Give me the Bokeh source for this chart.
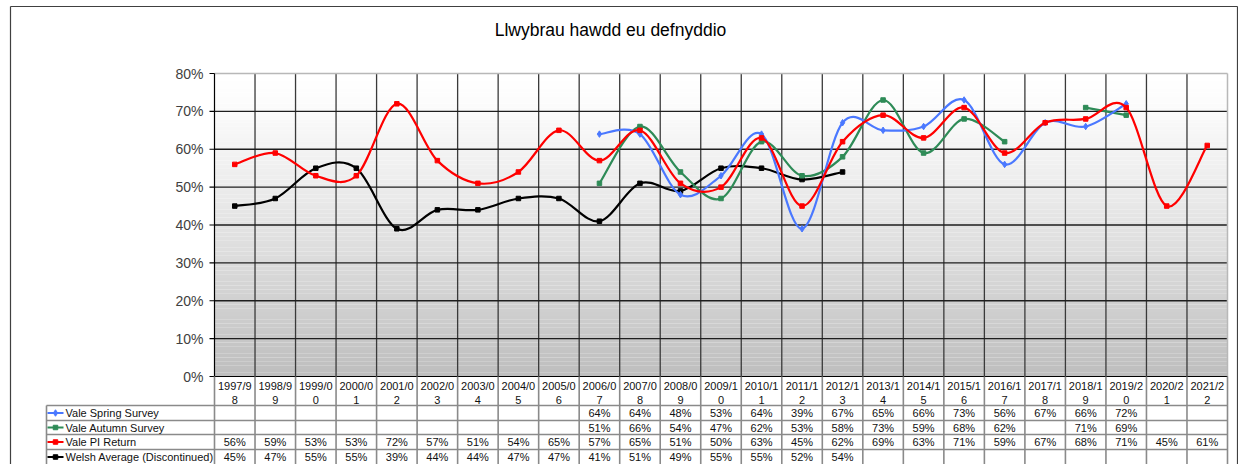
import numpy as np
from bokeh.plotting import figure
from bokeh.models import Range1d
from bokeh.core.properties import value
from bokeh.embed import file_html
from bokeh.resources import INLINE

# ---------------- data ----------------
title = "Llwybrau hawdd eu defnyddio"
categories = ["1997/98", "1998/99", "1999/00", "2000/01", "2001/02", "2002/03", "2003/04",
              "2004/05", "2005/06", "2006/07", "2007/08", "2008/09", "2009/10", "2010/11",
              "2011/12", "2012/13", "2013/14", "2014/15", "2015/16", "2016/17", "2017/18",
              "2018/19", "2019/20", "2020/21", "2021/22"]
spring = [None] * 9 + [64, 64, 48, 53, 64, 39, 67, 65, 66, 73, 56, 67, 66, 72, None, None]
autumn = [None] * 9 + [51, 66, 54, 47, 62, 53, 58, 73, 59, 68, 62, None, 71, 69, None, None]
pi_return = [56, 59, 53, 53, 72, 57, 51, 54, 65, 57, 65, 51, 50, 63, 45, 62, 69, 63, 71, 59,
             67, 68, 71, 45, 61]
welsh = [45, 47, 55, 55, 39, 44, 44, 47, 47, 41, 51, 49, 55, 55, 52, 54] + [None] * 9
series_names = ["Vale Spring Survey", "Vale Autumn Survey", "Vale PI Return",
                "Welsh Average (Discontinued)"]
y_ticks = [0, 10, 20, 30, 40, 50, 60, 70, 80]

# ---------------- layout ----------------
W, H = 1238, 464
FL, FR, FT, FB = 214, 1227, 73, 376   # chart plot area (figure pixels)
n = len(categories)
YMAX = 80
sx = (FR - FL) / n
sy = (FB - FT) / YMAX


def X(px):
    return (px - FL) / sx


def Y(py):
    return (FB - py) / sy


FONT = value("Liberation Sans")

p = figure(width=W, height=H, x_range=Range1d(X(0), X(W)), y_range=Range1d(Y(H), Y(0)),
           output_backend="svg", toolbar_location=None, min_border=0,
           x_axis_location=None, y_axis_location=None)
p.grid.visible = False
p.outline_line_color = None
p.background_fill_color = "white"
p.border_fill_color = "white"

# gradient background of the plot area
nb = 80
bot = np.linspace(0, YMAX, nb + 1)[:-1]
top = np.linspace(0, YMAX, nb + 1)[1:]
cols = []
for b in bot:
    t = (YMAX - (b + 0.5)) / YMAX
    g = int(round(255 - 66 * t ** 1.25))
    cols.append("#%02x%02x%02x" % (g, g, g))
p.quad(left=0, right=n, bottom=bot, top=top, fill_color=cols, line_color=None)

# gridlines
p.segment(x0=list(range(1, n)), y0=0, x1=list(range(1, n)), y1=YMAX,
          line_color="#3a3a3a", line_width=1.3)
p.segment(x0=0, y0=y_ticks[1:-1], x1=n, y1=y_ticks[1:-1], line_color="#1e1e1e", line_width=1.3)
p.segment(x0=0, y0=YMAX, x1=n, y1=YMAX, line_color="#b8b8b8", line_width=1.5)
p.segment(x0=n, y0=0, x1=n, y1=YMAX, line_color="#b8b8b8", line_width=1.5)
p.segment(x0=0, y0=0, x1=0, y1=YMAX, line_color="#000000", line_width=1.2)
p.segment(x0=0, y0=0, x1=n, y1=0, line_color="#000000", line_width=1.2)
p.segment(x0=X(FL - 5), y0=y_ticks, x1=0, y1=y_ticks, line_color="#000000", line_width=1.2)
p.text(x=X(FL - 11), y=y_ticks, text=["%d%%" % v for v in y_ticks], text_font=FONT,
       text_font_size="14px", text_align="right", text_baseline="middle", text_color="#404040")

# title
p.text(x=[X(610)], y=[Y(29)], text=[title], text_font=FONT, text_font_size="17.5px",
       text_align="center", text_baseline="middle", text_color="#000000")

# ---------------- table ----------------
row_lines = [405, 420, 434, 449]
row_centers = [412.5, 427, 441.5, 456.5]
tcol = "#8a8a8a"
p.segment(x0=list(range(0, n + 1)), y0=0, x1=list(range(0, n + 1)), y1=Y(H),
          line_color=tcol, line_width=1.6)
p.segment(x0=X(46), y0=[Y(r) for r in row_lines], x1=n, y1=[Y(r) for r in row_lines],
          line_color=tcol, line_width=1.6)
p.segment(x0=X(46), y0=Y(row_lines[0]), x1=X(46), y1=Y(H), line_color=tcol, line_width=1.6)

xc = [i + 0.5 for i in range(n)]
p.text(x=xc, y=Y(385), text=[c[:6] for c in categories], text_font=FONT, text_font_size="11px",
       text_align="center", text_baseline="middle", text_color="#111111")
p.text(x=xc, y=Y(399), text=[c[6:] for c in categories], text_font=FONT, text_font_size="11px",
       text_align="center", text_baseline="middle", text_color="#111111")

# outer border
p.segment(x0=X(10), y0=Y(6), x1=X(10), y1=Y(H), line_color="#404040", line_width=1.2)
p.segment(x0=X(10), y0=Y(6), x1=X(1237), y1=Y(6), line_color="#404040", line_width=1.2)
p.segment(x0=X(1237), y0=Y(6), x1=X(1237), y1=Y(H), line_color="#404040", line_width=1.2)


# ---------------- series ----------------
def runs(vals):
    out, cur = [], []
    for i, v in enumerate(vals):
        if v is None:
            if cur:
                out.append(cur)
            cur = []
        else:
            cur.append((i + 0.5, v))
    if cur:
        out.append(cur)
    return out


def draw_series(vals, color, marker, msize, row_y, name):
    x0, y0, x1, y1, cx0, cy0, cx1, cy1 = [], [], [], [], [], [], [], []
    for pts in runs(vals):
        m = len(pts)
        for k in range(m - 1):
            P0 = pts[k - 1] if k > 0 else pts[k]
            P1, P2 = pts[k], pts[k + 1]
            P3 = pts[k + 2] if k + 2 < m else pts[k + 1]
            x0.append(P1[0]); y0.append(P1[1]); x1.append(P2[0]); y1.append(P2[1])
            cx0.append(P1[0] + (P2[0] - P0[0]) / 6); cy0.append(P1[1] + (P2[1] - P0[1]) / 6)
            cx1.append(P2[0] - (P3[0] - P1[0]) / 6); cy1.append(P2[1] - (P3[1] - P1[1]) / 6)
    p.bezier(x0=x0, y0=y0, x1=x1, y1=y1, cx0=cx0, cy0=cy0, cx1=cx1, cy1=cy1,
             line_color=color, line_width=2.2)
    xs = [i + 0.5 for i, v in enumerate(vals) if v is not None]
    ys = [v for v in vals if v is not None]
    p.scatter(xs, ys, marker=marker, size=msize, fill_color=color, line_color=color)
    # table row values
    p.text(x=xs, y=Y(row_y), text=["%d%%" % v for v in ys], text_font=FONT,
           text_font_size="11px", text_align="center", text_baseline="middle",
           text_color="#111111")
    # legend key
    p.segment(x0=X(47), y0=Y(row_y), x1=X(63), y1=Y(row_y), line_color=color, line_width=2)
    p.scatter([X(55)], [Y(row_y)], marker=marker, size=msize, fill_color=color, line_color=color)
    p.text(x=[X(65)], y=[Y(row_y)], text=[name], text_font=FONT, text_font_size="11px",
           text_align="left", text_baseline="middle", text_color="#111111")


draw_series(welsh, "#000000", "square", 4.5, row_centers[3], series_names[3])
draw_series(autumn, "#2e8b57", "square", 4.5, row_centers[1], series_names[1])
draw_series(spring, "#4a78ff", "diamond", 6.5, row_centers[0], series_names[0])
draw_series(pi_return, "#ff0000", "square", 4.5, row_centers[2], series_names[2])

open("out.html", "w").write(file_html(p, INLINE))
